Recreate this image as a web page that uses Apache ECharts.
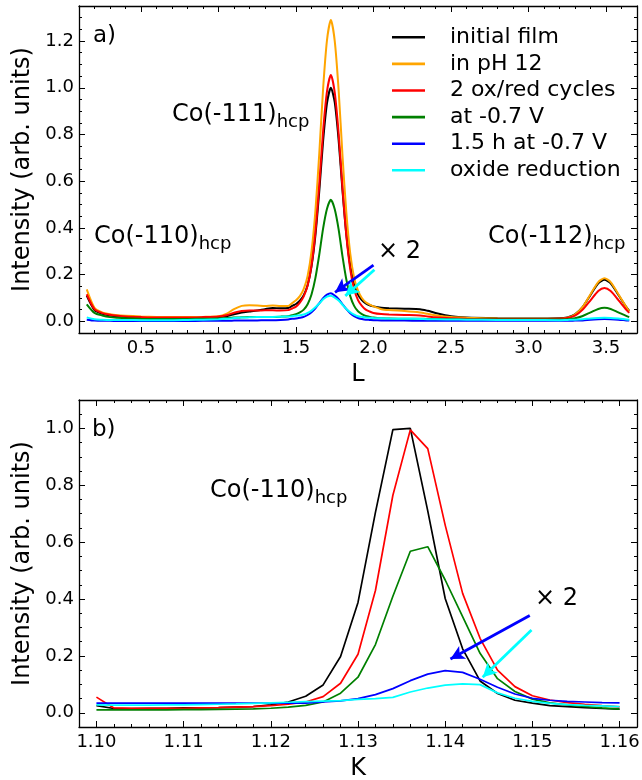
<!DOCTYPE html>
<html>
<head>
<meta charset="utf-8">
<script src="https://cdn.jsdelivr.net/npm/echarts@6/dist/echarts.min.js"></script>
<style>
  html, body { margin: 0; padding: 0; background: #ffffff; }
  #chart { width: 642px; height: 780px; }
</style>
</head>
<body>
<div id="chart"></div>
<script>
// ---- legend entries ----
const seriesNames = ['initial film', 'in pH 12', '2 ox/red cycles', 'at -0.7 V', '1.5 h at -0.7 V', 'oxide reduction'];

// ---- panel a: L scans ----
const scanL = [0.15, 0.2, 0.25, 0.3, 0.35, 0.4, 0.5, 0.6, 0.7, 0.8, 0.9, 1.0, 1.05, 1.1, 1.15, 1.2, 1.25, 1.3, 1.35, 1.4, 1.45,
  1.475, 1.5, 1.525, 1.55, 1.575, 1.6, 1.625, 1.65, 1.675, 1.7, 1.725, 1.75, 1.775, 1.8, 1.825, 1.85, 1.875, 1.9, 1.925, 1.95, 1.975, 2.0,
  2.05, 2.1, 2.2, 2.3, 2.35, 2.4, 2.5, 2.6, 2.8, 3.0,
  3.2, 3.25, 3.3, 3.35, 3.4, 3.45, 3.49, 3.53, 3.58, 3.63, 3.65];

const aInitial = [0.110, 0.048, 0.032, 0.025, 0.021, 0.019, 0.016, 0.015, 0.014, 0.015, 0.016, 0.019, 0.022, 0.030, 0.038, 0.042, 0.046, 0.052, 0.057, 0.056, 0.057,
  0.066, 0.074, 0.088, 0.112, 0.154, 0.235, 0.367, 0.556, 0.773, 0.934, 1.000, 0.937, 0.776, 0.559, 0.370, 0.238, 0.157, 0.115, 0.091, 0.077, 0.069, 0.064,
  0.058, 0.056, 0.054, 0.052, 0.045, 0.036, 0.022, 0.016, 0.013, 0.012,
  0.013, 0.017, 0.030, 0.062, 0.113, 0.163, 0.178, 0.163, 0.113, 0.062, 0.045];

const aPH12 = [0.137, 0.058, 0.038, 0.030, 0.026, 0.024, 0.021, 0.019, 0.018, 0.018, 0.019, 0.022, 0.032, 0.052, 0.066, 0.069, 0.068, 0.066, 0.068, 0.066, 0.066,
  0.078, 0.090, 0.108, 0.139, 0.194, 0.299, 0.471, 0.717, 0.997, 1.204, 1.290, 1.200, 0.990, 0.709, 0.463, 0.290, 0.186, 0.131, 0.100, 0.082, 0.072, 0.064,
  0.052, 0.048, 0.044, 0.038, 0.032, 0.026, 0.018, 0.015, 0.012, 0.011,
  0.011, 0.015, 0.029, 0.062, 0.116, 0.168, 0.184, 0.168, 0.116, 0.062, 0.042];

const aCycles = [0.116, 0.052, 0.035, 0.028, 0.024, 0.021, 0.018, 0.016, 0.016, 0.016, 0.018, 0.021, 0.026, 0.037, 0.044, 0.046, 0.046, 0.047, 0.047, 0.046, 0.048,
  0.055, 0.063, 0.080, 0.107, 0.153, 0.239, 0.381, 0.583, 0.815, 0.984, 1.055, 0.979, 0.804, 0.570, 0.366, 0.223, 0.137, 0.091, 0.066, 0.050, 0.042, 0.036,
  0.031, 0.029, 0.027, 0.025, 0.021, 0.017, 0.013, 0.011, 0.010, 0.010,
  0.011, 0.014, 0.024, 0.050, 0.090, 0.130, 0.143, 0.130, 0.091, 0.050, 0.036];

const aHold = [0.073, 0.036, 0.025, 0.018, 0.015, 0.013, 0.011, 0.010, 0.010, 0.010, 0.011, 0.012, 0.014, 0.016, 0.017, 0.018, 0.018, 0.019, 0.019, 0.020, 0.022,
  0.026, 0.030, 0.038, 0.050, 0.073, 0.115, 0.185, 0.285, 0.398, 0.482, 0.520, 0.480, 0.394, 0.278, 0.178, 0.108, 0.066, 0.043, 0.031, 0.023, 0.019, 0.016,
  0.013, 0.012, 0.011, 0.011, 0.010, 0.010, 0.009, 0.008, 0.008, 0.008,
  0.008, 0.009, 0.013, 0.023, 0.038, 0.053, 0.058, 0.053, 0.038, 0.023, 0.018];

const aHoldLong = [0.007, 0.003, 0.002, 0.002, 0.001, 0.001, 0.001, 0.001, 0.001, 0.001, 0.002, 0.002, 0.002, 0.003, 0.004, 0.004, 0.004, 0.005, 0.005, 0.006, 0.008,
  0.011, 0.012, 0.015, 0.019, 0.027, 0.039, 0.056, 0.077, 0.099, 0.114, 0.120, 0.110, 0.095, 0.073, 0.052, 0.035, 0.022, 0.014, 0.010, 0.007, 0.006, 0.005,
  0.004, 0.003, 0.003, 0.002, 0.002, 0.002, 0.002, 0.002, 0.002, 0.002,
  0.002, 0.002, 0.003, 0.004, 0.007, 0.009, 0.010, 0.009, 0.007, 0.004, 0.003];

const aReduced = [0.017, 0.009, 0.007, 0.006, 0.006, 0.006, 0.005, 0.005, 0.005, 0.006, 0.007, 0.009, 0.011, 0.014, 0.016, 0.017, 0.018, 0.018, 0.019, 0.020, 0.021,
  0.022, 0.024, 0.026, 0.029, 0.036, 0.046, 0.060, 0.076, 0.094, 0.106, 0.110, 0.101, 0.089, 0.071, 0.053, 0.039, 0.029, 0.022, 0.019, 0.016, 0.015, 0.014,
  0.013, 0.012, 0.011, 0.010, 0.009, 0.009, 0.008, 0.007, 0.006, 0.006,
  0.005, 0.006, 0.007, 0.009, 0.012, 0.014, 0.015, 0.014, 0.012, 0.008, 0.007];

// ---- panel b: K scans ----
const scanK = [1.100, 1.102, 1.104, 1.106, 1.108, 1.110, 1.112, 1.114, 1.116, 1.118, 1.120, 1.122, 1.124, 1.126, 1.128, 1.130,
  1.132, 1.134, 1.136, 1.138, 1.140, 1.142, 1.144, 1.146, 1.148, 1.150, 1.152, 1.154, 1.156, 1.158, 1.160];

const bInitial = [0.025, 0.015, 0.015, 0.016, 0.016, 0.017, 0.017, 0.018, 0.020, 0.022, 0.028, 0.038, 0.058, 0.098, 0.198, 0.388,
  0.705, 0.996, 1.000, 0.710, 0.402, 0.225, 0.112, 0.068, 0.044, 0.034, 0.025, 0.022, 0.018, 0.015, 0.013];

const bCycles = [0.055, 0.017, 0.016, 0.016, 0.016, 0.016, 0.017, 0.018, 0.020, 0.022, 0.025, 0.030, 0.038, 0.057, 0.104, 0.206,
  0.430, 0.765, 0.995, 0.929, 0.660, 0.420, 0.262, 0.150, 0.092, 0.060, 0.045, 0.036, 0.030, 0.025, 0.021];

const bHold = [0.010, 0.010, 0.010, 0.010, 0.010, 0.011, 0.011, 0.012, 0.013, 0.014, 0.016, 0.020, 0.026, 0.038, 0.069, 0.125,
  0.240, 0.410, 0.568, 0.584, 0.467, 0.338, 0.209, 0.120, 0.075, 0.048, 0.035, 0.028, 0.022, 0.017, 0.013];

const bHoldLong = [0.034, 0.034, 0.034, 0.034, 0.034, 0.034, 0.034, 0.034, 0.034, 0.034, 0.034, 0.034, 0.034, 0.038, 0.042, 0.050,
  0.064, 0.085, 0.113, 0.136, 0.148, 0.142, 0.118, 0.090, 0.066, 0.051, 0.044, 0.040, 0.038, 0.036, 0.035];

const bReduced = [0.028, 0.027, 0.027, 0.027, 0.028, 0.028, 0.029, 0.030, 0.031, 0.033, 0.035, 0.037, 0.039, 0.041, 0.043, 0.047,
  0.050, 0.054, 0.073, 0.087, 0.097, 0.102, 0.099, 0.070, 0.051, 0.040, 0.033, 0.029, 0.026, 0.024, 0.022];

// ---- tick labels ----
const aTicksL = [0.5, 1.0, 1.5, 2.0, 2.5, 3.0, 3.5];
const aTicksI = [0.0, 0.2, 0.4, 0.6, 0.8, 1.0, 1.2];
const bTicksK = [1.10, 1.11, 1.12, 1.13, 1.14, 1.15, 1.16];
const bTicksI = [0.0, 0.2, 0.4, 0.6, 0.8, 1.0];

// ---- styling ----
const FONT = 'DejaVu Sans';
const lineColors = {
  'initial film': '#000000',
  'in pH 12': '#ffa500',
  '2 ox/red cycles': '#ff0000',
  'at -0.7 V': '#008000',
  '1.5 h at -0.7 V': '#0000ff',
  'oxide reduction': '#00ffff'
};

function minorSteps(lo, hi, step, majors) {
  const out = [];
  const n = Math.round((hi - lo) / step);
  for (let i = 0; i <= n; i++) {
    const v = Math.round((lo + i * step) * 1e6) / 1e6;
    if (!majors.some(m => Math.abs(m - v) < step / 10)) out.push(v);
  }
  return out;
}

// four axes per dimension: labelled major, minor, mirrored major, mirrored minor
function axisGroup(dim, gridIndex, min, max, majors, minors, fmt, name, nameGap) {
  const isX = dim === 'x';
  const near = isX ? 'bottom' : 'left';
  const far = isX ? 'top' : 'right';
  const frame = { show: true, onZero: false, lineStyle: { color: '#000', width: 1.3 } };
  const base = {
    type: 'value', gridIndex, min, max, scale: false,
    splitLine: { show: false }, minorTick: { show: false }
  };
  return [
    Object.assign({}, base, {
      position: near,
      axisLine: frame,
      axisTick: { show: true, inside: true, length: 6, customValues: majors, lineStyle: { color: '#000', width: 1 } },
      axisLabel: { show: true, customValues: majors, formatter: fmt, fontFamily: FONT, fontSize: 18, color: '#000', margin: isX ? 6 : 5 },
      name, nameLocation: 'middle', nameGap, nameRotate: isX ? 0 : 90,
      nameTextStyle: { fontFamily: FONT, fontSize: 24, color: '#000' }
    }),
    Object.assign({}, base, {
      position: near,
      axisLine: { show: false, onZero: false },
      axisTick: { show: true, inside: true, length: 3, customValues: minors, lineStyle: { color: '#000', width: 1 } },
      axisLabel: { show: false }
    }),
    Object.assign({}, base, {
      position: far,
      axisLine: frame,
      axisTick: { show: true, inside: true, length: 6, customValues: majors, lineStyle: { color: '#000', width: 1 } },
      axisLabel: { show: false }
    }),
    Object.assign({}, base, {
      position: far,
      axisLine: { show: false, onZero: false },
      axisTick: { show: true, inside: true, length: 3, customValues: minors, lineStyle: { color: '#000', width: 1 } },
      axisLabel: { show: false }
    })
  ];
}

function zip(xs, ys) { return xs.map((x, i) => [x, ys[i]]); }

function curve(name, xs, ys, axisIndex, width) {
  return {
    type: 'line', name, data: zip(xs, ys),
    xAxisIndex: axisIndex, yAxisIndex: axisIndex,
    showSymbol: false, symbol: 'none', smooth: axisIndex === 0 ? 0.25 : false,
    lineStyle: { color: lineColors[name], width },
    itemStyle: { color: lineColors[name] },
    emphasis: { disabled: true }, silent: true, z: 2
  };
}

function arrow(color, from, to) {
  return {
    silent: true, animation: false,
    symbol: ['none', 'arrow'], symbolSize: [11, 14],
    label: { show: false },
    emphasis: { disabled: true },
    lineStyle: { color, width: 2.8, type: 'solid', opacity: 1 },
    data: [[{ coord: from }, { coord: to }]]
  };
}

// arrows marking the curves that are magnified by two
const aArrowBlue = [[2.0, 0.241], [1.752, 0.124]];
const aArrowCyan = [[2.006, 0.221], [1.818, 0.109]];
const bArrowBlue = [[1.1497, 0.342], [1.1406, 0.189]];
const bArrowCyan = [[1.1499, 0.291], [1.1443, 0.125]];

const fmt1 = v => v.toFixed(1);
const fmt2 = v => v.toFixed(2);

const xAxes = [
  ...axisGroup('x', 0, 0.1, 3.7, aTicksL, minorSteps(0.1, 3.7, 0.1, aTicksL), fmt1, 'L', 30),
  ...axisGroup('x', 1, 1.098, 1.162, bTicksK, minorSteps(1.1, 1.16, 0.002, bTicksK), fmt2, 'K', 30)
];
const yAxes = [
  ...axisGroup('y', 0, -0.05, 1.35, aTicksI, minorSteps(-0.05, 1.35, 0.05, aTicksI), fmt1, 'Intensity (arb. units)', 42),
  ...axisGroup('y', 1, -0.05, 1.1, bTicksI, minorSteps(-0.05, 1.1, 0.05, bTicksI), fmt1, 'Intensity (arb. units)', 42)
];

const panelA = [aInitial, aPH12, aCycles, aHold, aHoldLong, aReduced];
const series = [];
panelA.forEach((ys, i) => series.push(curve(seriesNames[i], scanL, ys, 0, 2)));
const panelB = [
  ['initial film', bInitial], ['2 ox/red cycles', bCycles], ['at -0.7 V', bHold],
  ['1.5 h at -0.7 V', bHoldLong], ['oxide reduction', bReduced]
];
panelB.forEach(([n, ys]) => series.push(curve(n, scanK, ys, 4, 1.7)));

series[4].markLine = arrow('#0000ff', aArrowBlue[0], aArrowBlue[1]);
series[5].markLine = arrow('#00ffff', aArrowCyan[0], aArrowCyan[1]);
series[9].markLine = arrow('#0000ff', bArrowBlue[0], bArrowBlue[1]);
series[10].markLine = arrow('#00ffff', bArrowCyan[0], bArrowCyan[1]);

function label(x, y, text, size) {
  return {
    type: 'text', x, y, silent: true,
    style: { text, fill: '#000', fontFamily: FONT, fontSize: size, align: 'left', verticalAlign: 'middle', textAlign: 'left', textVerticalAlign: 'middle' }
  };
}
function peakLabel(x, y, main, sub) {
  return {
    type: 'text', x, y, silent: true,
    style: {
      text: '{m|' + main + '}{s|' + sub + '}',
      fill: '#000', fontFamily: FONT, fontSize: 24,
      align: 'left', verticalAlign: 'middle', textAlign: 'left', textVerticalAlign: 'middle',
      rich: {
        m: { fontFamily: FONT, fontSize: 24, fill: '#000', color: '#000' },
        s: { fontFamily: FONT, fontSize: 18, fill: '#000', color: '#000', padding: [14, 0, 0, 0] }
      }
    }
  };
}

const chart = echarts.init(document.getElementById('chart'), null, { renderer: 'canvas' });
chart.setOption({
  animation: false,
  backgroundColor: '#ffffff',
  grid: [
    { left: 79, top: 6, width: 558, height: 327, outerBoundsMode: 'none', containLabel: false },
    { left: 79, top: 400, width: 558, height: 327, outerBoundsMode: 'none', containLabel: false }
  ],
  xAxis: xAxes,
  yAxis: yAxes,
  legend: {
    data: seriesNames,
    orient: 'vertical', left: 387, top: 19,
    icon: 'rect', itemWidth: 33, itemHeight: 2.6, itemGap: 0,
    selectedMode: false,
    textStyle: { fontFamily: FONT, fontSize: 22, color: '#000', lineHeight: 26.6, padding: [0, 0, 0, 20] }
  },
  graphic: [
    label(93, 36, 'a)', 23),
    peakLabel(172, 115, 'Co(-111)', 'hcp'),
    peakLabel(94, 237, 'Co(-110)', 'hcp'),
    peakLabel(488, 237, 'Co(-112)', 'hcp'),
    label(378, 252, '× 2', 24),
    label(92, 430, 'b)', 23),
    peakLabel(210, 491, 'Co(-110)', 'hcp'),
    label(535, 599, '× 2', 24)
  ],
  series
});
</script>
</body>
</html>
